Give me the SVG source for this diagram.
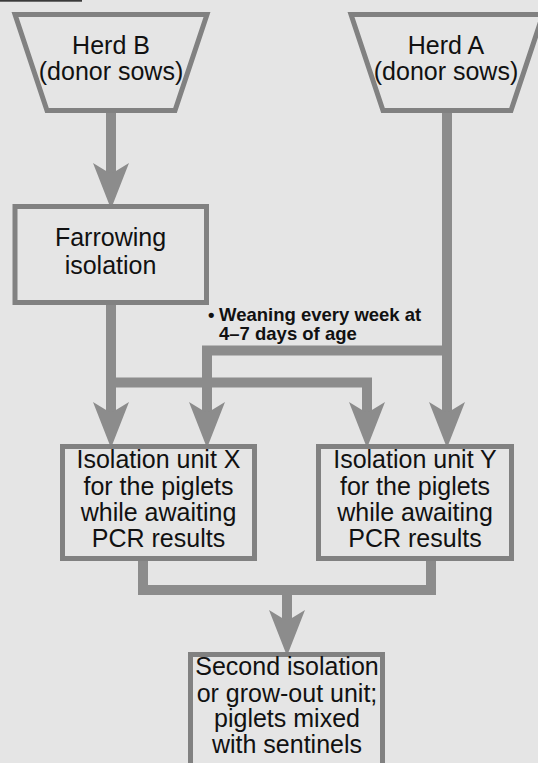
<svg xmlns="http://www.w3.org/2000/svg" width="538" height="763" viewBox="0 0 538 763">
<style>
.box{fill:#e5e5e5;stroke:#818181;stroke-width:5;stroke-linejoin:miter}
.lbl{font-family:"Liberation Sans",Arial,sans-serif;font-size:25px;fill:#111;text-anchor:middle}
.note{font-family:"Liberation Sans",Arial,sans-serif;font-size:18.5px;font-weight:bold;fill:#111}
.con{fill:none;stroke:#8c8c8c;stroke-width:10;stroke-linejoin:miter;stroke-linecap:butt}
</style>
<defs>
<marker id="arr" viewBox="-47 -19 48 38" refX="-35" refY="0" markerWidth="48" markerHeight="38" markerUnits="userSpaceOnUse" orient="auto">
<path d="M0,0 L-46,-18 L-35,0 L-46,18 Z" fill="#8c8c8c"/>
</marker>
</defs>
<rect x="0" y="0" width="538" height="763" fill="#e5e5e5"/>
<rect x="0" y="0" width="82" height="1.7" fill="#3a3a3a"/>

<g id="connectors">
<path class="con" d="M111,112 V174" marker-end="url(#arr)"/>
<path class="con" d="M111,304 V413" marker-end="url(#arr)"/>
<path class="con" d="M106,382.5 H367 V413" marker-end="url(#arr)"/>
<path class="con" d="M447,112 V413" marker-end="url(#arr)"/>
<path class="con" d="M452,350.5 H207 V413" marker-end="url(#arr)"/>
<path class="con" d="M143,560 V590 H431 V560"/>
<path class="con" d="M287,590 V621" marker-end="url(#arr)"/>
</g>

<g id="herdB">
<path class="box" d="M15,14.5 H207 L175,110.5 H47 Z"/>
<text class="lbl" x="111" y="54">Herd B</text>
<text class="lbl" x="111" y="80">(donor sows)</text>
</g>

<g id="herdA">
<path class="box" d="M351,14.5 H543 L511,110.5 H383 Z"/>
<text class="lbl" x="446" y="54">Herd A</text>
<text class="lbl" x="446" y="80">(donor sows)</text>
</g>

<g id="farrowing">
<rect class="box" x="15" y="206.5" width="191.5" height="96"/>
<text class="lbl" x="110.5" y="245.5">Farrowing</text>
<text class="lbl" x="110.5" y="273.5">isolation</text>
</g>

<g id="weaning-note">
<text class="note" x="208" y="321" font-size="13">•</text>
<text class="note" x="219" y="321">Weaning every week at</text>
<text class="note" x="219" y="340">4–7 days of age</text>
</g>

<g id="unitX">
<rect class="box" x="62.5" y="446.5" width="192" height="112"/>
<text class="lbl" x="158.5" y="468">Isolation unit X</text>
<text class="lbl" x="158.5" y="494.5">for the piglets</text>
<text class="lbl" x="158.5" y="521">while awaiting</text>
<text class="lbl" x="158.5" y="547">PCR results</text>
</g>

<g id="unitY">
<rect class="box" x="318.5" y="446.5" width="193" height="112"/>
<text class="lbl" x="415" y="468">Isolation unit Y</text>
<text class="lbl" x="415" y="494.5">for the piglets</text>
<text class="lbl" x="415" y="521">while awaiting</text>
<text class="lbl" x="415" y="547">PCR results</text>
</g>

<g id="second">
<rect class="box" x="190.5" y="654.5" width="192" height="130"/>
<text class="lbl" x="287" y="675">Second isolation</text>
<text class="lbl" x="287" y="701.5">or grow-out unit;</text>
<text class="lbl" x="287" y="727">piglets mixed</text>
<text class="lbl" x="287" y="753">with sentinels</text>
</g>
</svg>
